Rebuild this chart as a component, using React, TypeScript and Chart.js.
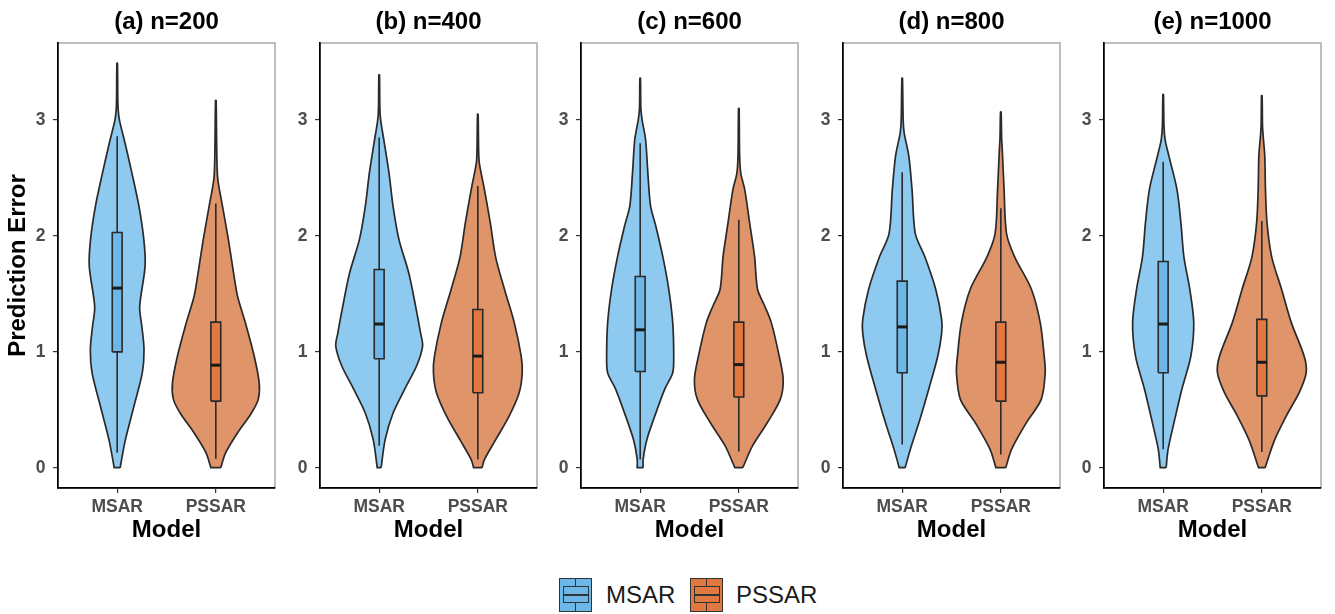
import React, { useEffect, useRef } from "react";
import { Chart, registerables } from "chart.js";

Chart.register(...registerables);

// ---------- data ----------
const panelTitles = ["(a) n=200", "(b) n=400", "(c) n=600", "(d) n=800", "(e) n=1000"];
const models = ["MSAR", "PSSAR"];
const modelPositions = [1, 2];
const yTickValues = [0, 1, 2, 3];
const yAxisTitle = "Prediction Error";
const xAxisTitle = "Model";

// violin outlines: [prediction error, half-width (category units)]
const msarViolinA = [[0, 0.03], [0.24, 0.083], [0.53, 0.17], [0.82, 0.255], [1.02, 0.272], [1.22, 0.25], [1.39, 0.228], [1.74, 0.283], [1.97, 0.27], [2.26, 0.22], [2.54, 0.15], [2.8, 0.08], [3.0, 0.023], [3.09, 0.01], [3.2, 0.006], [3.49, 0.003]];
const pssarViolinA = [[0, 0.05], [0.13, 0.1], [0.3, 0.22], [0.47, 0.36], [0.59, 0.43], [0.73, 0.44], [0.96, 0.39], [1.25, 0.3], [1.48, 0.22], [1.68, 0.18], [1.97, 0.127], [2.26, 0.067], [2.49, 0.02], [2.7, 0.01], [3.17, 0.003]];
const msarViolinB = [[0, 0.02], [0.24, 0.06], [0.47, 0.14], [0.68, 0.26], [0.88, 0.38], [1.05, 0.44], [1.16, 0.42], [1.39, 0.37], [1.68, 0.3], [1.97, 0.2], [2.26, 0.14], [2.54, 0.1], [2.83, 0.047], [3.0, 0.015], [3.1, 0.007], [3.39, 0.003]];
const pssarViolinB = [[0, 0.043], [0.07, 0.067], [0.24, 0.18], [0.45, 0.32], [0.65, 0.42], [0.82, 0.45], [0.96, 0.44], [1.25, 0.37], [1.54, 0.27], [1.82, 0.18], [2.11, 0.127], [2.4, 0.067], [2.63, 0.015], [2.75, 0.008], [3.05, 0.003]];
const msarViolinC = [[0, 0.03], [0.07, 0.03], [0.24, 0.067], [0.45, 0.15], [0.68, 0.25], [0.82, 0.33], [0.96, 0.34], [1.25, 0.33], [1.54, 0.29], [1.82, 0.23], [2.08, 0.16], [2.26, 0.105], [2.54, 0.078], [2.83, 0.055], [3.0, 0.02], [3.1, 0.007], [3.36, 0.003]];
const pssarViolinC = [[0, 0.04], [0.19, 0.14], [0.39, 0.29], [0.59, 0.42], [0.76, 0.45], [0.96, 0.41], [1.25, 0.33], [1.4, 0.26], [1.54, 0.19], [1.82, 0.16], [2.11, 0.11], [2.4, 0.06], [2.54, 0.02], [2.7, 0.008], [3.1, 0.003]];
const msarViolinD = [[0, 0.03], [0.16, 0.083], [0.39, 0.17], [0.68, 0.27], [0.96, 0.36], [1.16, 0.4], [1.28, 0.4], [1.54, 0.34], [1.82, 0.23], [2.02, 0.133], [2.4, 0.1], [2.69, 0.067], [2.89, 0.02], [3.0, 0.01], [3.36, 0.003]];
const pssarViolinD = [[0, 0.05], [0.16, 0.11], [0.39, 0.26], [0.59, 0.41], [0.82, 0.45], [0.96, 0.44], [1.25, 0.4], [1.54, 0.31], [1.82, 0.14], [2.02, 0.058], [2.4, 0.033], [2.74, 0.015], [2.85, 0.008], [3.07, 0.003]];
const msarViolinE = [[0, 0.03], [0.16, 0.05], [0.39, 0.11], [0.68, 0.19], [0.96, 0.28], [1.25, 0.31], [1.54, 0.27], [1.82, 0.21], [2.11, 0.18], [2.4, 0.14], [2.69, 0.058], [2.83, 0.02], [2.95, 0.008], [3.22, 0.003]];
const pssarViolinE = [[0, 0.033], [0.24, 0.13], [0.45, 0.25], [0.65, 0.38], [0.82, 0.45], [0.96, 0.43], [1.25, 0.3], [1.54, 0.2], [1.82, 0.1], [2.11, 0.053], [2.4, 0.037], [2.69, 0.03], [2.85, 0.015], [2.95, 0.007], [3.21, 0.003]];

const msarViolins = [msarViolinA, msarViolinB, msarViolinC, msarViolinD, msarViolinE];
const pssarViolins = [pssarViolinA, pssarViolinB, pssarViolinC, pssarViolinD, pssarViolinE];

// box stats: [lower whisker, Q1, median, Q3, upper whisker]
const msarBoxStats = [
  [0.13, 1.0, 1.55, 2.03, 2.86],
  [0.19, 0.94, 1.24, 1.71, 2.85],
  [0.07, 0.83, 1.19, 1.65, 2.8],
  [0.2, 0.82, 1.215, 1.61, 2.55],
  [0.16, 0.82, 1.24, 1.78, 2.64],
];
const pssarBoxStats = [
  [0.078, 0.575, 0.885, 1.256, 2.28],
  [0.07, 0.647, 0.963, 1.365, 2.43],
  [0.14, 0.61, 0.89, 1.256, 2.14],
  [0.115, 0.575, 0.91, 1.256, 2.24],
  [0.135, 0.62, 0.91, 1.28, 2.13],
];

// ---------- styling ----------
const FONT = "'Liberation Sans', Arial, Helvetica, sans-serif";
const VIOLIN_FILL = ["#8EC9F0", "#E0946A"];
const BOX_FILL = ["#6CB6E8", "#E17840"];
const OUTLINE = "#2A2A2A";
const BOX_HALF = 0.05;
const PANEL_LEFTS = [58, 320, 581, 843, 1104];
const PANEL_W = 217;
const CANVAS_H = 545;

type Pair = number[];

function violinPath(center: number, profile: Pair[]) {
  const right = profile.map(([y, w]) => ({ x: center + w, y }));
  const left = profile.slice().reverse().map(([y, w]) => ({ x: center - w, y }));
  const br = right[0];
  const bl = left[left.length - 1];
  return [br, ...right, ...left, bl, br];
}

function boxPath(center: number, q1: number, q3: number) {
  return [
    { x: center - BOX_HALF, y: q1 },
    { x: center - BOX_HALF, y: q1 },
    { x: center + BOX_HALF, y: q1 },
    { x: center + BOX_HALF, y: q3 },
    { x: center - BOX_HALF, y: q3 },
    { x: center - BOX_HALF, y: q1 },
  ];
}

const framePlugin = {
  id: "panelFrame",
  beforeDraw(chart: any) {
    const { ctx, chartArea: a } = chart;
    ctx.save();
    ctx.strokeStyle = "#A3A3A3";
    ctx.lineWidth = 1.4;
    ctx.strokeRect(a.left, a.top, a.right - a.left, a.bottom - a.top);
    ctx.restore();
  },
};

function buildDatasets(p: number) {
  const sets: any[] = [];
  const allViolins = [msarViolins, pssarViolins];
  const allStats = [msarBoxStats, pssarBoxStats];
  models.forEach((m, k) => {
    const c = modelPositions[k];
    const [lo, q1, med, q3, hi] = allStats[k][p];
    const base = { pointRadius: 0, pointHoverRadius: 0, showLine: true };
    sets.push({
      ...base,
      label: m + " median",
      data: [{ x: c - BOX_HALF, y: med }, { x: c + BOX_HALF, y: med }],
      borderColor: "#1A1A1A",
      borderWidth: 3,
      borderCapStyle: "butt",
      fill: false,
      tension: 0,
      order: 0,
    });
    sets.push({
      ...base,
      label: m + " box",
      data: boxPath(c, q1, q3),
      borderColor: OUTLINE,
      backgroundColor: BOX_FILL[k],
      borderWidth: 1.6,
      fill: "shape",
      tension: 0,
      order: 1,
    });
    sets.push({
      ...base,
      label: m + " whisker",
      data: [{ x: c, y: lo }, { x: c, y: hi }],
      borderColor: OUTLINE,
      borderWidth: 1.6,
      fill: false,
      tension: 0,
      order: 2,
    });
    sets.push({
      ...base,
      label: m,
      data: violinPath(c, allViolins[k][p]),
      borderColor: OUTLINE,
      backgroundColor: VIOLIN_FILL[k],
      borderWidth: 1.7,
      fill: "shape",
      tension: 0.3,
      order: 3,
    });
  });
  return sets;
}

function Panel({ index }: { index: number }) {
  const ref = useRef<HTMLCanvasElement | null>(null);
  const axisW = index === 0 ? 58 : 40;
  const canvasLeft = PANEL_LEFTS[index] - axisW;
  const canvasW = axisW + PANEL_W + 6;

  useEffect(() => {
    if (!ref.current) return;
    const tickFont = { family: FONT, size: 17.5, weight: "bold" as const };
    const titleFont = { family: FONT, size: 24, weight: "bold" as const };
    const chart = new Chart(ref.current, {
      type: "line",
      data: { datasets: buildDatasets(index) },
      plugins: [framePlugin],
      options: {
        responsive: false,
        animation: false,
        devicePixelRatio: 1,
        events: [],
        layout: { padding: { left: 0, right: 6, top: 0, bottom: 0 } },
        plugins: {
          legend: { display: false },
          tooltip: { enabled: false },
          title: {
            display: true,
            text: panelTitles[index],
            fullSize: false,
            color: "#000",
            font: titleFont,
            padding: { top: 8, bottom: 6.2 },
          },
        },
        scales: {
          x: {
            type: "linear",
            min: 0.4,
            max: 2.6,
            afterBuildTicks: (s: any) => {
              s.ticks = modelPositions.map((v) => ({ value: v }));
            },
            afterFit: (s: any) => {
              s.height = 57;
            },
            ticks: {
              autoSkip: false,
              maxRotation: 0,
              padding: 3.5,
              color: "#4D4D4D",
              font: tickFont,
              callback: (v: any) => models[modelPositions.indexOf(Number(v))],
            },
            grid: { display: true, drawOnChartArea: false, drawTicks: true, tickLength: 5, color: "#333", lineWidth: 1.2 },
            border: { display: true, color: "#000", width: 1.7 },
            title: { display: true, text: xAxisTitle, color: "#000", font: titleFont, padding: { top: 0, bottom: 0 } },
          },
          y: {
            type: "linear",
            min: -0.175,
            max: 3.665,
            afterBuildTicks: (s: any) => {
              s.ticks = yTickValues.map((v) => ({ value: v }));
            },
            afterFit: (s: any) => {
              s.width = axisW;
            },
            ticks: {
              padding: 7.5,
              color: "#4D4D4D",
              font: tickFont,
              callback: (v: any) => String(v),
            },
            grid: { display: true, drawOnChartArea: false, drawTicks: true, tickLength: 5, color: "#333", lineWidth: 1.2 },
            border: { display: true, color: "#000", width: 1.7 },
            title: {
              display: index === 0,
              text: yAxisTitle,
              color: "#000",
              font: titleFont,
              padding: { top: 4.1, bottom: 0 },
            },
          },
        },
      } as any,
    });
    return () => chart.destroy();
  }, [index]);

  return (
    <canvas
      ref={ref}
      width={canvasW}
      height={CANVAS_H}
      style={{ position: "absolute", left: canvasLeft, top: 0, width: canvasW, height: CANVAS_H }}
    />
  );
}

function LegendKey({ fill, left }: { fill: string; left: number }) {
  const line = "#333";
  return (
    <div style={{ position: "absolute", left, top: 578, width: 33, height: 34, boxSizing: "border-box", border: `1.6px solid ${line}`, background: fill }}>
      <div style={{ position: "absolute", left: 2.5, right: 2.5, top: 6.5, height: 17.5, boxSizing: "border-box", border: `1.4px solid ${line}` }} />
      <div style={{ position: "absolute", left: 2.5, right: 2.5, top: 15, height: 1.6, background: line }} />
      <div style={{ position: "absolute", left: 14.8, width: 1.4, top: 0, height: 6.5, background: line }} />
      <div style={{ position: "absolute", left: 14.8, width: 1.4, top: 24, height: 8, background: line }} />
    </div>
  );
}

export default function App() {
  return (
    <div style={{ position: "absolute", left: 0, top: 0, width: 1335, height: 614, background: "#fff", overflow: "hidden", fontFamily: FONT }}>
      {panelTitles.map((t, i) => (
        <Panel key={t} index={i} />
      ))}
      <LegendKey fill={BOX_FILL[0]} left={559} />
      <div style={{ position: "absolute", left: 606, top: 580, fontSize: 24, lineHeight: "30px", color: "#1A1A1A" }}>{models[0]}</div>
      <LegendKey fill={BOX_FILL[1]} left={690} />
      <div style={{ position: "absolute", left: 736, top: 580, fontSize: 24, lineHeight: "30px", color: "#1A1A1A" }}>{models[1]}</div>
    </div>
  );
}
